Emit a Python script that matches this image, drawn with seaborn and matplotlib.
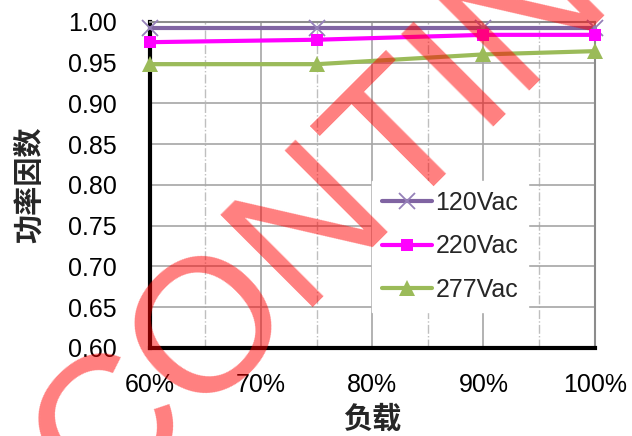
import numpy as np
import pandas as pd
import matplotlib
matplotlib.use("Agg")
import matplotlib.pyplot as plt
import matplotlib.ticker as mticker
import seaborn as sns

# Data
load = [60, 75, 90, 100]
pf_120 = [0.993, 0.993, 0.993, 0.993]
pf_220 = [0.975, 0.978, 0.984, 0.984]
pf_277 = [0.948, 0.948, 0.960, 0.964]
series_names = ["120Vac", "220Vac", "277Vac"]
x_ticks = [60, 70, 80, 90, 100]
y_ticks = [0.60, 0.65, 0.70, 0.75, 0.80, 0.85, 0.90, 0.95, 1.00]

sns.set_style("white")
plt.rcParams["font.family"] = ["Liberation Sans", "Noto Sans CJK SC", "DejaVu Sans"]

fig = plt.figure(figsize=(6.32, 4.36), dpi=100)
ax = fig.add_axes([0.237, 0.202, 0.704, 0.748])

styles = {
    "120Vac": dict(color="#8064A2", marker="x", markersize=11, markeredgewidth=1.3,
                   markeredgecolor="#9580b8"),
    "220Vac": dict(color="#FF00FF", marker="s", markersize=9, markeredgewidth=0,
                   markeredgecolor="#FF00FF"),
    "277Vac": dict(color="#9BBB59", marker="^", markersize=11, markeredgewidth=0,
                   markeredgecolor="#9BBB59"),
}
for name, vals in zip(series_names, [pf_120, pf_220, pf_277]):
    sns.lineplot(x=load, y=vals, ax=ax, label=name, linewidth=3, clip_on=False,
                 zorder=5, **styles[name])

ax.set_xlim(60, 100)
ax.set_ylim(0.60, 1.00)
ax.set_xticks(x_ticks)
ax.set_xticks([65, 75, 85, 95], minor=True)
ax.set_yticks(y_ticks)
ax.xaxis.set_major_formatter(mticker.FuncFormatter(lambda v, p: f"{v:.0f}%"))
ax.yaxis.set_major_formatter(mticker.FormatStrFormatter("%.2f"))

# gridlines: solid major, dash-dot minor verticals
ax.grid(axis="y", which="major", color="#a6a6a6", linewidth=1.2)
ax.grid(axis="x", which="major", color="#a6a6a6", linewidth=1.2)
ax.grid(axis="x", which="minor", color="#bfbfbf", linewidth=1, linestyle="-.")
ax.set_axisbelow(True)

for s in ["left", "bottom"]:
    ax.spines[s].set_color("black")
    ax.spines[s].set_linewidth(3)
for s in ["top", "right"]:
    ax.spines[s].set_color("#8c8c8c")
    ax.spines[s].set_linewidth(1.5)

ax.tick_params(axis="both", which="major", direction="in", length=5, width=3,
               color="black", labelsize=18, labelcolor="black")
ax.tick_params(axis="y", pad=24)
ax.tick_params(axis="x", pad=18)
ax.tick_params(axis="x", which="minor", length=0)

ax.set_xlabel("负载", fontsize=21, fontweight="bold", labelpad=6)
ax.set_ylabel("功率因数", fontsize=21, fontweight="bold", labelpad=17)

leg = ax.legend(loc="upper left", bbox_to_anchor=(0.499, 0.512), borderaxespad=0,
                fontsize=18, frameon=True, facecolor="white", edgecolor="white",
                framealpha=1, fancybox=False, handlelength=2.0, handletextpad=0.15,
                labelspacing=0.78, borderpad=0.4)
leg.set_zorder(6)

# watermark across the figure
fig.text(98 / 632, 1 - 513 / 436, "CONTINUED", rotation=45, rotation_mode="anchor",
         ha="left", va="baseline", fontsize=137, color="red", alpha=0.5,
         family=["Liberation Sans"], zorder=20)

fig.savefig("out.png", dpi=100)
